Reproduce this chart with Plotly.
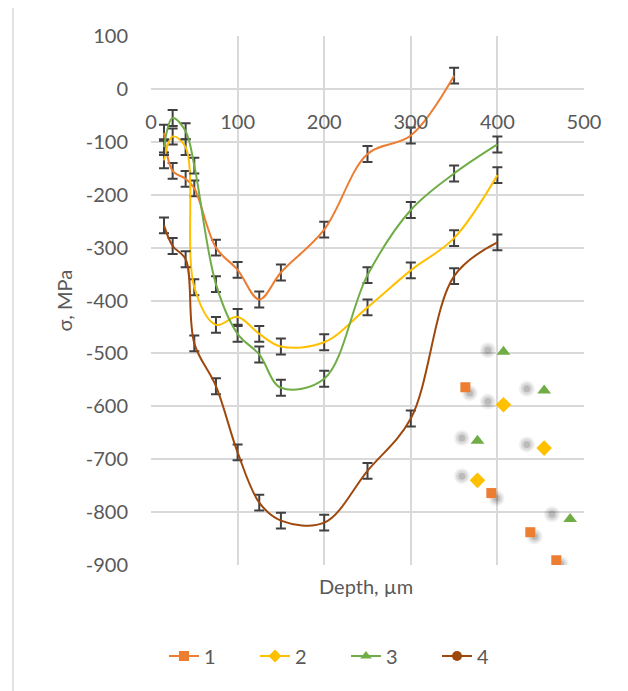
import plotly.graph_objects as go

# ---- data ----
depth = [15, 25, 40, 50, 75, 100, 125, 150, 200, 250, 300, 350, 400]
s1 = [-83, -155, -170, -188, -300, -342, -398, -347, -266, -123, -88, 25]
s2 = [-135, -90, -110, -375, -446, -431, -463, -487, -479, -413, -343, -282, -163]
s3 = [-110, -55, -80, -145, -369, -463, -502, -565, -548, -352, -229, -160, -105]
s4 = [-258, -297, -322, -481, -562, -687, -782, -816, -820, -722, -623, -354, -290]
err = 15

names = ["1", "2", "3", "4"]
colors = ["#ED7D31", "#FFC000", "#70AD47", "#9E480E"]
symbols = ["square", "diamond", "triangle-up", "circle"]

# stray markers (misplaced marker layer in the original chart)
m1_x = [363, 393, 438, 468]
m1_y = [-564, -764, -838, -891]
m2_x = [407, 454, 377]
m2_y = [-597, -679, -740]
m3_x = [407, 454, 377, 484]
m3_y = [-497, -570, -665, -813]
sh_x = [389, 434, 389, 359, 434, 359, 463, 368, 399, 443, 473]
sh_y = [-494, -567, -591, -660, -672, -732, -804, -575, -774, -846, -898]

yticks = list(range(-900, 101, 100))
ytick_text = [str(v) for v in yticks]
xticks = list(range(0, 501, 100))
xtick_text = [str(v) for v in xticks]

FONT = "Lato, 'Open Sans', sans-serif"
TXT = "#595959"

fig = go.Figure()

# blurred shadows of stray markers
for sz, op in [(16, 0.06), (12, 0.09), (7, 0.14)]:
    fig.add_trace(go.Scatter(x=sh_x, y=sh_y, mode="markers", showlegend=False, hoverinfo="skip",
                             marker=dict(size=sz, color=f"rgba(0,0,0,{op})", line=dict(width=0))))

series = [s1, s2, s3, s4]
for s, c in zip(series, colors):
    xs = depth[:len(s)]
    fig.add_trace(go.Scatter(
        x=xs, y=s, mode="lines", showlegend=False,
        line=dict(color=c, width=2, shape="spline", smoothing=1.0),
        error_y=dict(type="constant", value=err, color="#404040", thickness=2, width=5),
    ))

for mx, my, c, sym, sz in [(m1_x, m1_y, colors[0], symbols[0], 10),
                            (m2_x, m2_y, colors[1], symbols[1], 12),
                            (m3_x, m3_y, colors[2], symbols[2], 12)]:
    fig.add_trace(go.Scatter(x=mx, y=my, mode="markers", showlegend=False,
                             marker=dict(symbol=sym, size=sz, color=c, line=dict(width=0))))

# legend entries
for n, c, sym in zip(names, colors, symbols):
    fig.add_trace(go.Scatter(x=[None], y=[None], mode="lines+markers", name=n,
                             line=dict(color=c, width=2),
                             marker=dict(symbol=sym, size=10, color=c)))

fig.update_layout(
    width=620, height=683,
    margin=dict(l=143, r=44, t=28, b=126),
    paper_bgcolor="white", plot_bgcolor="white",
    font=dict(family=FONT, size=20, color=TXT),
    showlegend=True,
    legend=dict(orientation="h", x=0.03, y=-0.172, xanchor="left", yanchor="middle",
                font=dict(size=20, color=TXT), entrywidth=46, entrywidthmode="pixels",
                tracegroupgap=0),
    xaxis=dict(range=[0, 500], tickvals=xticks, ticktext=xtick_text, showgrid=True,
               gridcolor="#D9D9D9", gridwidth=1.5,
               zeroline=False, showline=False, ticks="", anchor="free", position=0.9,
               side="bottom", ticklabelstandoff=19, tickfont=dict(size=20, color=TXT)),
    yaxis=dict(range=[-900, 100], tickvals=yticks, ticktext=ytick_text, showgrid=True,
               gridcolor="#D9D9D9", gridwidth=1.5,
               zeroline=False, showline=False, ticks="", ticklabelstandoff=22,
               tickfont=dict(size=20, color=TXT)),
    annotations=[
        dict(text="Depth, µm", xref="paper", yref="paper", x=0.4965, y=-0.04,
             xanchor="center", yanchor="middle", showarrow=False, font=dict(size=20, color=TXT)),
        dict(text="σ, MPa", xref="paper", yref="paper", x=-0.2032, y=0.5, textangle=-90,
             xanchor="center", yanchor="middle", showarrow=False, font=dict(size=20, color=TXT)),
    ],
    shapes=[
        dict(type="line", xref="paper", yref="paper", x0=-0.3187, x1=-0.3187, y0=-0.25, y1=1.08,
             line=dict(color="#D9D9D9", width=1.5)),
    ],
)

fig.write_html("out.html")
